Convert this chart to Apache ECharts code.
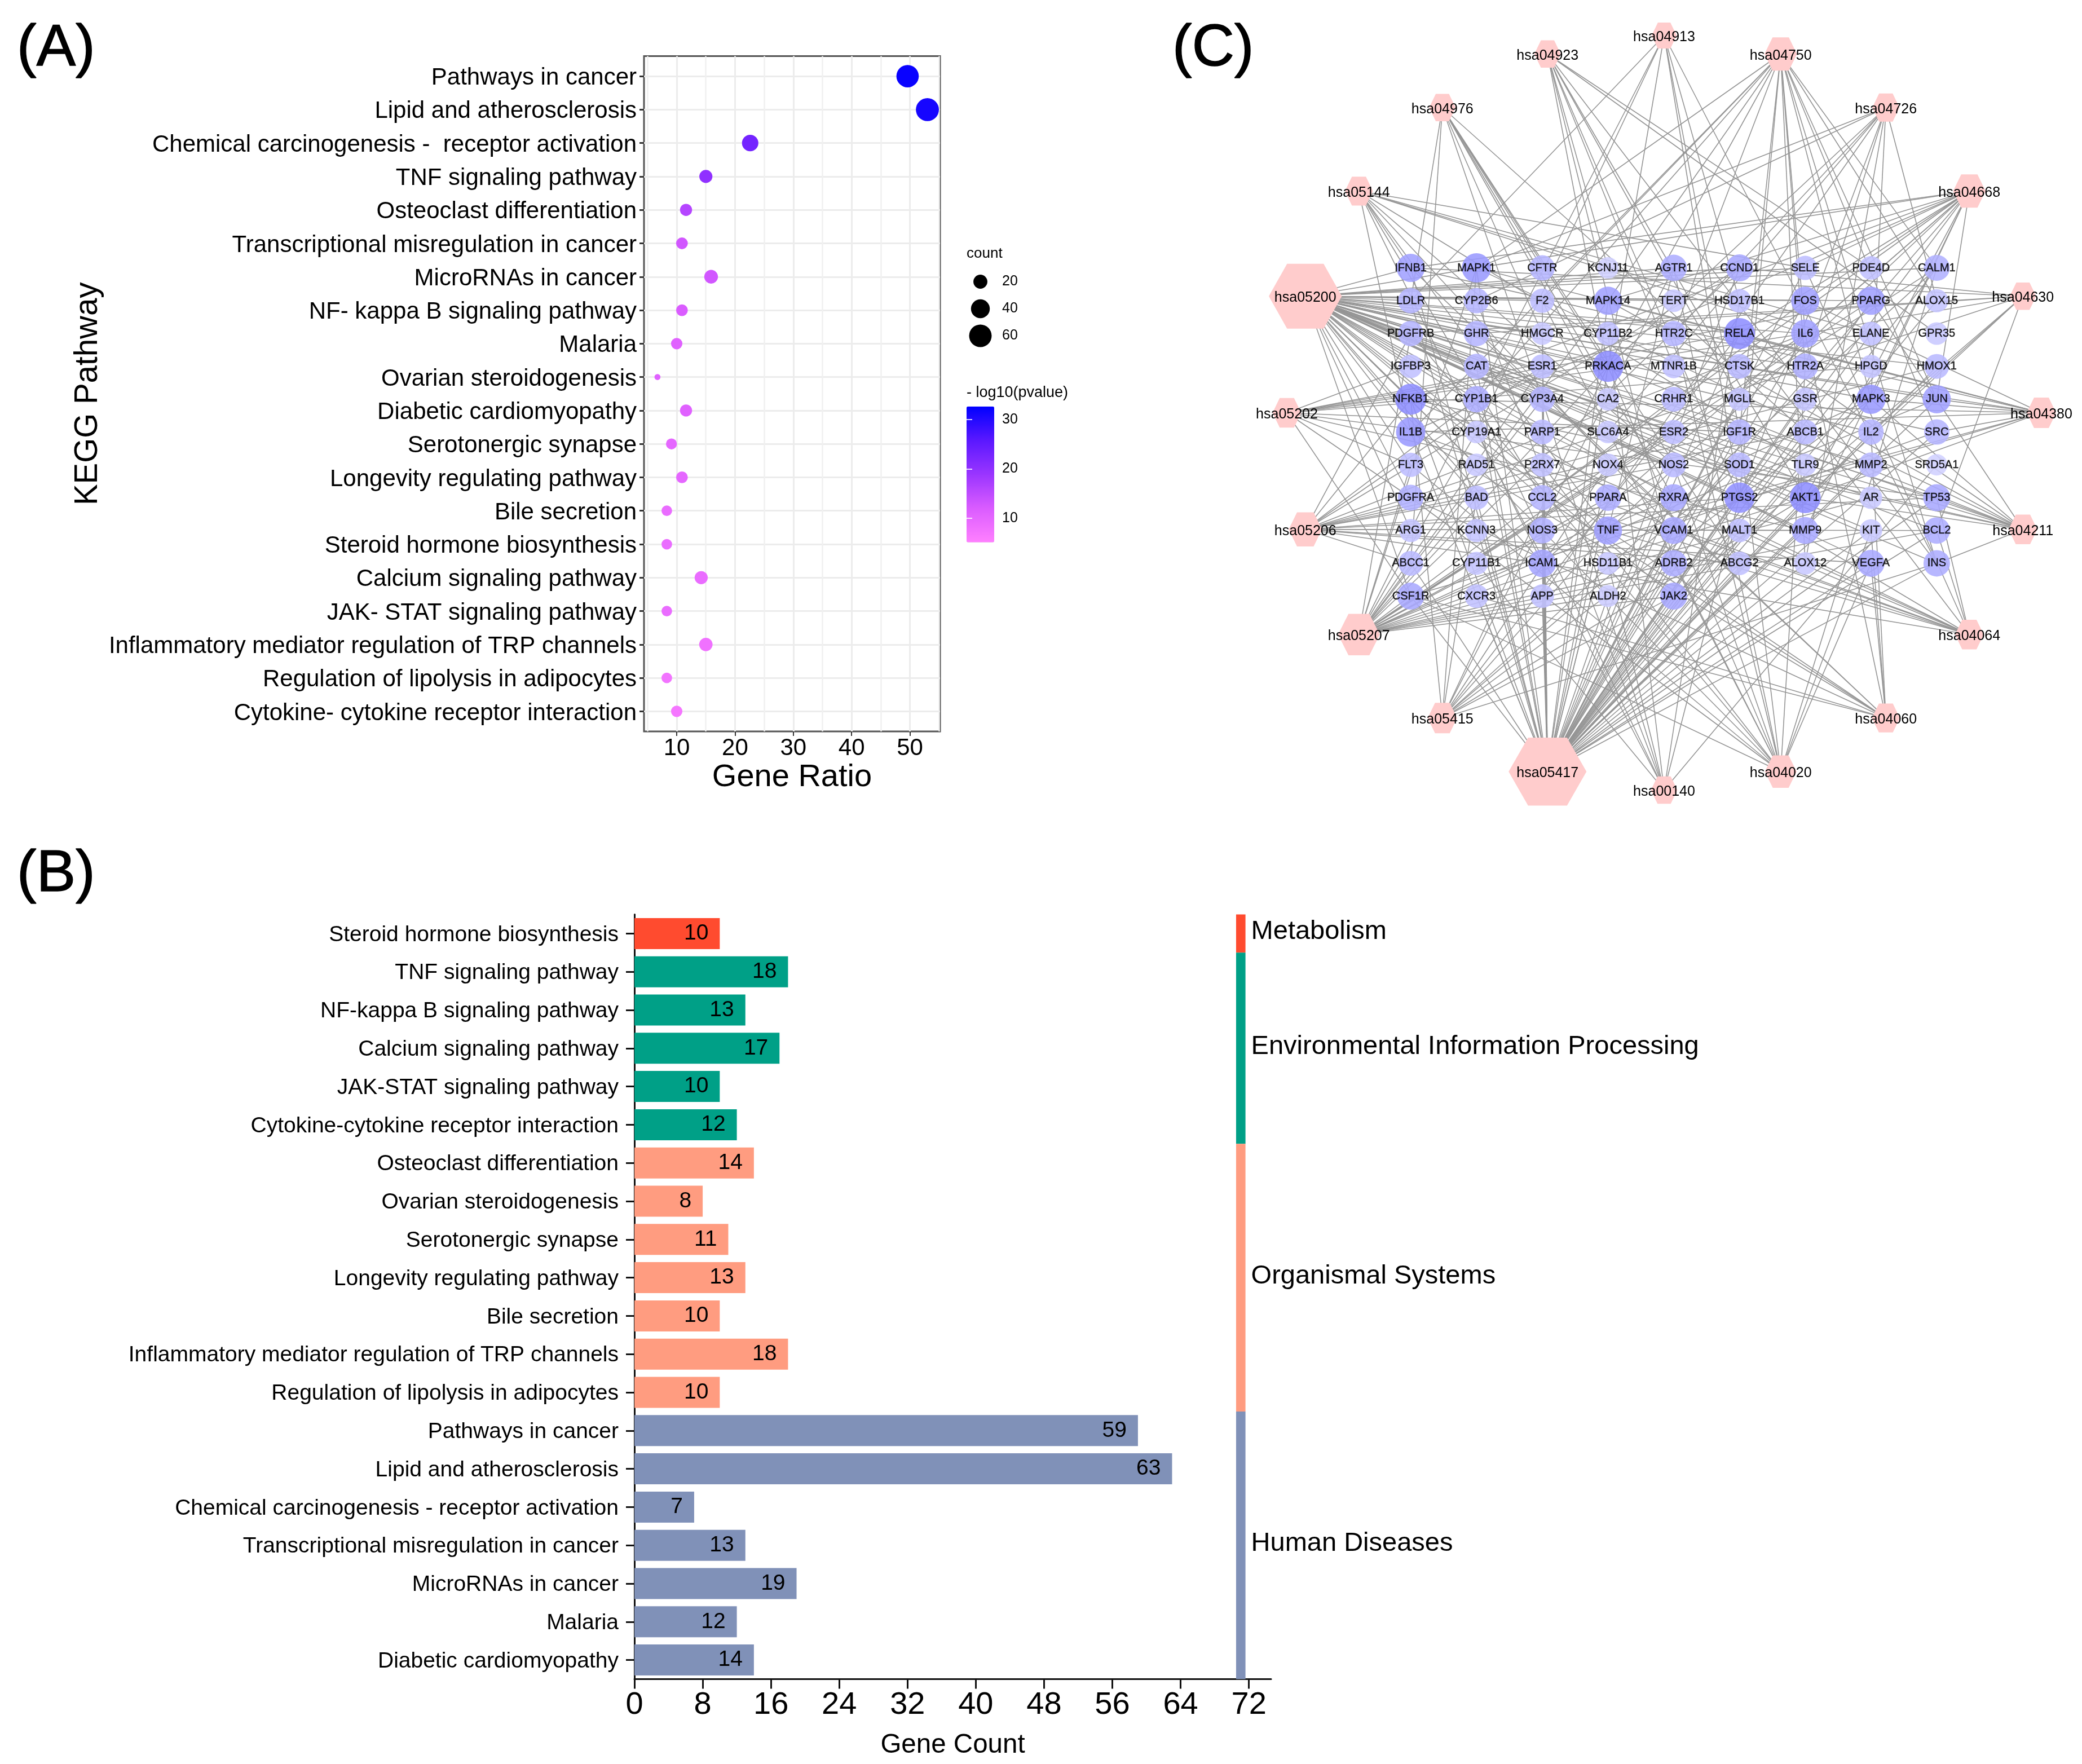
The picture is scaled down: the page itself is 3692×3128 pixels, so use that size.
<!DOCTYPE html>
<html><head><meta charset="utf-8">
<style>html,body{margin:0;padding:0;background:#fff}#c{width:3692px;height:3128px}</style>
<script src="https://cdn.jsdelivr.net/npm/echarts@6/dist/echarts.min.js"></script>
</head><body><div id="c"></div>
<script>
// ---------- Panel A data ----------
const keggNames = ['Pathways in cancer','Lipid and atherosclerosis','Chemical carcinogenesis -  receptor activation','TNF signaling pathway','Osteoclast differentiation','Transcriptional misregulation in cancer','MicroRNAs in cancer','NF- kappa B signaling pathway','Malaria','Ovarian steroidogenesis','Diabetic cardiomyopathy','Serotonergic synapse','Longevity regulating pathway','Bile secretion','Steroid hormone biosynthesis','Calcium signaling pathway','JAK- STAT signaling pathway','Inflammatory mediator regulation of TRP channels','Regulation of lipolysis in adipocytes','Cytokine- cytokine receptor interaction'];
const geneRatio = [49.6,53,22.6,15,11.6,10.9,15.9,10.9,10,6.7,11.6,9.1,10.9,8.3,8.3,14.2,8.3,15,8.3,10];
const keggCount = [59,63,29,17,14,13,19,13,12,2,14,11,13,10,10,17,10,18,10,12];
const logP = [32,31,23,20,16,13,13,12,11,11,11,10,10,9,9,9,9,8,7.5,7];
const sizeLegend = [20,40,60];
const ratioMajor = [10,20,30,40,50];
const ratioMinor = [5,15,25,35,45,55];
const colorTicks = [10,20,30];
// ---------- Panel B data ----------
const barNames = ['Steroid hormone biosynthesis','TNF signaling pathway','NF-kappa B signaling pathway','Calcium signaling pathway','JAK-STAT signaling pathway','Cytokine-cytokine receptor interaction','Osteoclast differentiation','Ovarian steroidogenesis','Serotonergic synapse','Longevity regulating pathway','Bile secretion','Inflammatory mediator regulation of TRP channels','Regulation of lipolysis in adipocytes','Pathways in cancer','Lipid and atherosclerosis','Chemical carcinogenesis - receptor activation','Transcriptional misregulation in cancer','MicroRNAs in cancer','Malaria','Diabetic cardiomyopathy'];
const barValues = [10,18,13,17,10,12,14,8,11,13,10,18,10,59,63,7,13,19,12,14];
const groupNames = ['Metabolism','Environmental Information Processing','Organismal Systems','Human Diseases'];
const groupSizes = [1,5,7,7];
const groupColors = ['#FF4B2F','#00A087','#FF9C80','#8091B8'];
const barTicks = [0,8,16,24,32,40,48,56,64,72];
// ---------- Panel C data ----------
const genes = ['IFNB1','MAPK1','CFTR','KCNJ11','AGTR1','CCND1','SELE','PDE4D','CALM1','LDLR','CYP2B6','F2','MAPK14','TERT','HSD17B1','FOS','PPARG','ALOX15','PDGFRB','GHR','HMGCR','CYP11B2','HTR2C','RELA','IL6','ELANE','GPR35','IGFBP3','CAT','ESR1','PRKACA','MTNR1B','CTSK','HTR2A','HPGD','HMOX1','NFKB1','CYP1B1','CYP3A4','CA2','CRHR1','MGLL','GSR','MAPK3','JUN','IL1B','CYP19A1','PARP1','SLC6A4','ESR2','IGF1R','ABCB1','IL2','SRC','FLT3','RAD51','P2RX7','NOX4','NOS2','SOD1','TLR9','MMP2','SRD5A1','PDGFRA','BAD','CCL2','PPARA','RXRA','PTGS2','AKT1','AR','TP53','ARG1','KCNN3','NOS3','TNF','VCAM1','MALT1','MMP9','KIT','BCL2','ABCC1','CYP11B1','ICAM1','HSD11B1','ADRB2','ABCG2','ALOX12','VEGFA','INS','CSF1R','CXCR3','APP','ALDH2','JAK2'];
const geneWeight = [14,16,9,2,11,12,7,6,10, 9,9,7,14,4,6,14,14,5, 9,9,4,6,9,19,14,6,4, 6,9,7,19,6,8,10,5,8, 19,11,9,4,8,5,5,16,14, 16,4,8,4,7,9,8,9,9, 7,4,6,4,8,8,4,8,2, 10,7,9,11,12,18,19,4,12, 5,5,10,14,12,6,12,4,11, 8,5,13,4,11,6,4,12,11, 12,6,6,3,12];
const pathwayRing = ['hsa04913','hsa04750','hsa04726','hsa04668','hsa04630','hsa04380','hsa04211','hsa04064','hsa04060','hsa04020','hsa00140','hsa05417','hsa05415','hsa05207','hsa05206','hsa05202','hsa05200','hsa05144','hsa04976','hsa04923'];
const pathwayGenes = {
 hsa04913:'CYP19A1 CYP1B1 HSD17B1 PRKACA IGF1R INS PTGS2 LDLR',
 hsa04750:'CALM1 PRKACA MAPK1 MAPK3 MAPK14 IL1B F2 HTR2A HTR2C ALOX12 ALOX15 SRC IGF1R PTGS2 INS JUN IL6 CYP1B1',
 hsa04726:'HTR2A HTR2C SLC6A4 PRKACA MAPK1 MAPK3 PTGS2 ALOX12 ALOX15 APP CYP2B6',
 hsa04668:'MAPK1 MAPK3 MAPK14 FOS JUN RELA NFKB1 IL6 IL1B TNF CCL2 PTGS2 MMP9 ICAM1 VCAM1 SELE AKT1 IFNB1',
 hsa04630:'IFNB1 IL2 IL6 GHR PDGFRA PDGFRB CCND1 BCL2 JAK2 AKT1',
 hsa04380:'FOS JUN MAPK1 MAPK3 MAPK14 NFKB1 RELA AKT1 TNF IL1B IFNB1 CSF1R CTSK SRC',
 hsa04211:'AKT1 IGF1R INS NFKB1 RELA TP53 SOD1 CAT PRKACA MAPK14 PPARG MAPK1 MAPK3',
 hsa04064:'RELA NFKB1 IL1B TNF PTGS2 ICAM1 VCAM1 SELE BCL2 MALT1 PARP1 CCL2 TP53',
 hsa04060:'IFNB1 IL1B IL2 IL6 TNF CCL2 CXCR3 CSF1R GHR VEGFA KIT PDGFRA',
 hsa04020:'AGTR1 CALM1 ADRB2 HTR2A HTR2C PDGFRA PDGFRB P2RX7 NOS2 NOS3 PRKACA F2 KIT FLT3 VEGFA CSF1R IGF1R',
 hsa00140:'CYP1B1 CYP3A4 CYP19A1 CYP11B1 CYP11B2 HSD17B1 HSD11B1 SRD5A1 CYP2B6 PTGS2',
 hsa05417:'LDLR CAT JUN FOS MAPK1 MAPK3 MAPK14 NFKB1 RELA AKT1 TNF IL1B IL6 CCL2 ICAM1 VCAM1 SELE MMP2 MMP9 PPARG PPARA RXRA BCL2 BAD TP53 PRKACA CALM1 HMOX1 NOS3 NOS2 NOX4 SOD1 TLR9 SRC JAK2 ALOX15 ALOX12 APP IFNB1 GSR CYP3A4 CYP1B1 ABCG2 HMGCR PTGS2 VEGFA CCND1 F2 IL2 INS AGTR1 IGF1R PARP1 ABCC1 ABCB1 CSF1R CXCR3 ALDH2 ADRB2 KIT MALT1 ELANE MGLL',
 hsa05415:'AGTR1 MAPK1 MAPK3 NFKB1 RELA TNF PRKACA NOX4 INS AKT1 BAD SOD1 JAK2 CALM1',
 hsa05207:'AR ESR1 ESR2 RXRA PPARA PPARG CYP1B1 CYP3A4 CYP19A1 AKT1 MAPK1 MAPK3 MAPK14 JUN FOS CCND1 SRC PRKACA BCL2 BAD KIT IGF1R PDGFRB ADRB2 JAK2 CALM1 IL6 ALDH2 FLT3',
 hsa05206:'BCL2 CCND1 MMP9 TP53 PTGS2 ABCB1 ABCC1 ABCG2 CYP1B1 PDGFRA PDGFRB HMOX1 VEGFA IGF1R ICAM1 NFKB1 IL6 NOS2 ESR1',
 hsa05202:'RELA NFKB1 IL6 TP53 FLT3 IGF1R IGFBP3 PPARG ELANE MMP9 HPGD CSF1R PDGFRA',
 hsa05200:'MAPK1 MAPK3 CCND1 F2 AGTR1 FOS JUN PPARG IL6 RELA NFKB1 PRKACA HMOX1 IL2 IGF1R ESR1 ESR2 PTGS2 AKT1 AR TP53 MMP2 MMP9 BCL2 VEGFA NOS2 RXRA BAD FLT3 PDGFRA PDGFRB KIT RAD51 JAK2 CALM1 IFNB1 CSF1R TERT IL1B TNF ICAM1 VCAM1 CCL2 SRC CAT SOD1 NOS3 PARP1 ARG1 CYP1B1 CYP3A4 HMGCR GHR IGFBP3 INS HTR2A SELE CTSK LDLR',
 hsa05144:'IL1B IL6 TNF CCL2 ICAM1 VCAM1 SELE TLR9 HMOX1 ELANE IFNB1 NOS2',
 hsa04976:'ABCB1 ABCG2 ABCC1 CFTR LDLR HMGCR CA2 PRKACA RXRA CYP3A4',
 hsa04923:'ADRB2 PRKACA AKT1 INS PTGS2 MGLL PDE4D GPR35 MTNR1B KCNJ11'
};

// ---------- helpers ----------
const FONT = '"Liberation Sans", Arial, sans-serif';
const countToSize = c => 4.1 + 4.63 * Math.sqrt(c);
const range = n => Array.from({length:n},(_,i)=>i);
const hexPath = 'path://M0 50 L25 0 L75 0 L100 50 L75 100 L25 100 Z';
const lerpHex = (t) => {
  const a=[208,208,255], b=[142,142,255];
  return 'rgb('+a.map((v,i)=>Math.round(v+(b[i]-v)*t)).join(',')+')';
};

// panel C layout (network units)
const RING_R = 669, COL_STEP = 116.6, ROW_STEP = 58.2;
const nodes = [];
pathwayRing.forEach((name,i)=>{
  const th = i*Math.PI*2/pathwayRing.length;
  const deg = pathwayGenes[name].split(' ').length;
  nodes.push({name, value:[RING_R*Math.sin(th), -RING_R*Math.cos(th)],
    symbol:hexPath,
    symbolSize:[35+1.1*deg+0.0085*deg*deg, 36+1.25*deg+0.0015*deg*deg],
    itemStyle:{color:'#ffcccc',opacity:1},
    label:{show:true,position:'inside',fontSize:25,color:'#000',fontFamily:FONT,verticalAlign:'top',lineHeight:6}});
});
genes.forEach((name,i)=>{
  const col=i%9,row=Math.floor(i/9),w=geneWeight[i];
  nodes.push({name, value:[(col-4)*COL_STEP+17,(row-4.5)*ROW_STEP+5],
    symbol:'circle', symbolSize:36+w,
    itemStyle:{color:lerpHex((w-2)/17),opacity:0.88},
    label:{show:true,position:'inside',fontSize:20,color:'#000',fontFamily:FONT,textBorderColor:'#000',textBorderWidth:0.4}});
});
const links=[];
Object.keys(pathwayGenes).forEach(p=>pathwayGenes[p].split(' ').forEach(g=>links.push({source:p,target:g})));

// group strip
let cum=0;
const stripData = groupSizes.map((n,i)=>{const d=[cum,cum+n,i];cum+=n;return d;});
const barColor = i=>{let c=0;for(let g=0;g<groupSizes.length;g++){c+=groupSizes[g];if(i<c)return groupColors[g];}};
const STRIP_X=[70.5,71.6];

const hiddenX=(extra)=>Object.assign({type:'value',show:false},extra);
const panelTitle={fontSize:104,fontWeight:'normal',color:'#000',fontFamily:FONT,textBorderColor:'#000',textBorderWidth:1.5};

const option={
 backgroundColor:'#fff',
 animation:false,
 textStyle:{fontFamily:FONT},
 title:[
  {text:'(A)',left:30,top:35,padding:0,textStyle:panelTitle},
  {text:'(B)',left:30,top:1499,padding:0,textStyle:panelTitle},
  {text:'(C)',left:2079,top:35,padding:0,textStyle:panelTitle},
  {text:'count',left:1714,top:437,padding:0,textStyle:{fontSize:26,fontWeight:'normal',color:'#000',fontFamily:FONT}},
  {text:'- log10(pvalue)',left:1714,top:683,padding:0,textStyle:{fontSize:27,fontWeight:'normal',color:'#000',fontFamily:FONT}}
 ],
 visualMap:[{type:'continuous',seriesIndex:0,dimension:3,min:5.15,max:32.66,left:1714,top:720.7,itemWidth:49,itemHeight:241,padding:0,calculable:false,hoverLink:false,text:null,
   inRange:{color:['#ff80ff','#da5cff','#9a35ff','#5a18ff','#0000ff']}}],
 grid:[
  {left:1142,top:99.5,width:525,height:1197.5,show:true,borderColor:'#555',borderWidth:3,backgroundColor:'#fff'},
  {left:1714,top:475.5,width:49,height:144},
  {left:1714,top:720.7,width:49,height:241},
  {left:1125,top:1621.5,width:1129,height:1356},
  {left:1125,top:1621.5,width:1129,height:1356},
  {left:2211,top:2,width:1480,height:1460}
 ],
 xAxis:[
  {gridIndex:0,type:'value',min:4.39,max:55.17,position:'bottom',
   axisLine:{show:false,onZero:false},
   axisTick:{show:true,length:8,customValues:ratioMajor,lineStyle:{color:'#333',width:2}},
   axisLabel:{customValues:ratioMajor,fontSize:42,margin:9,color:'#000',fontFamily:FONT},
   splitLine:{show:true,lineStyle:{color:'#ececec',width:3}},
   name:'Gene Ratio',nameLocation:'middle',nameGap:54,nameMoveOverlap:false,nameTextStyle:{fontSize:56,color:'#000',fontFamily:FONT}},
  {gridIndex:0,type:'value',min:4.39,max:55.17,position:'bottom',
   axisLine:{show:false,onZero:false},axisTick:{show:false,customValues:ratioMinor},axisLabel:{show:false,customValues:ratioMinor},
   splitLine:{show:true,lineStyle:{color:'#f0f0f0',width:2.5}}},
  hiddenX({gridIndex:1,min:0,max:1}),
  hiddenX({gridIndex:2,min:0,max:1}),
  {gridIndex:3,type:'value',min:0,max:74.6,
   axisLine:{show:true,onZero:false,lineStyle:{color:'#111',width:3}},
   axisTick:{show:true,length:17,customValues:barTicks,lineStyle:{color:'#111',width:3}},
   axisLabel:{customValues:barTicks,fontSize:56,margin:18,color:'#000',fontFamily:FONT},
   splitLine:{show:false},
   name:'Gene Count',nameLocation:'middle',nameGap:93,nameMoveOverlap:false,nameTextStyle:{fontSize:47.5,color:'#000',fontFamily:FONT}},
  hiddenX({gridIndex:4,min:0,max:74.6}),
  hiddenX({gridIndex:5,min:-740,max:740})
 ],
 yAxis:[
  {gridIndex:0,type:'value',inverse:true,min:-0.6,max:19.6,
   axisLine:{show:false,onZero:false},
   axisTick:{show:true,length:8,customValues:range(keggNames.length),lineStyle:{color:'#333',width:3}},
   axisLabel:{customValues:range(keggNames.length),fontSize:42,margin:13,color:'#000',fontFamily:FONT,verticalAlign:'top',lineHeight:7,formatter:v=>keggNames[v]},
   splitLine:{show:true,lineStyle:{color:'#ececec',width:3}},
   name:'KEGG Pathway',nameLocation:'middle',nameGap:957,nameRotate:90,nameMoveOverlap:false,nameTextStyle:{fontSize:56.5,color:'#000',fontFamily:FONT}},
  {gridIndex:1,type:'category',position:'right',data:sizeLegend.map(String),inverse:true,
   axisLine:{show:false},axisTick:{show:false},axisLabel:{fontSize:25,margin:14,color:'#000',fontFamily:FONT}},
  {gridIndex:2,type:'value',position:'right',min:5.15,max:32.66,z:10,
   axisLine:{show:false},
   axisTick:{show:true,inside:true,length:10,customValues:colorTicks,lineStyle:{color:'#fff',opacity:.8,width:2}},
   axisLabel:{customValues:colorTicks,fontSize:25,margin:14,color:'#000',fontFamily:FONT},splitLine:{show:false}},
  {gridIndex:2,type:'value',position:'left',min:5.15,max:32.66,z:10,
   axisLine:{show:false},
   axisTick:{show:true,inside:true,length:10,customValues:colorTicks,lineStyle:{color:'#fff',opacity:.8,width:2}},
   axisLabel:{show:false,customValues:colorTicks},splitLine:{show:false}},
  {gridIndex:3,type:'category',inverse:true,data:barNames,
   axisLine:{show:true,lineStyle:{color:'#111',width:3}},
   axisTick:{show:true,length:15,alignWithLabel:true,lineStyle:{color:'#111',width:3}},
   axisLabel:{fontSize:39,margin:28,color:'#000',fontFamily:FONT,interval:0,verticalAlign:'top',lineHeight:5}},
  {gridIndex:4,type:'value',inverse:true,min:0,max:20,show:false},
  {gridIndex:5,type:'value',inverse:true,min:-730,max:730,show:false}
 ],
 series:[
  {name:'KEGG',type:'scatter',xAxisIndex:0,yAxisIndex:0,clip:false,z:5,itemStyle:{opacity:1},
   data:keggNames.map((n,i)=>[geneRatio[i],i,keggCount[i],logP[i]]),
   symbolSize:d=>countToSize(d[2])},
  {name:'count',type:'scatter',xAxisIndex:2,yAxisIndex:1,itemStyle:{color:'#000',opacity:1},
   data:sizeLegend.map(v=>[0.5,String(v),v]),symbolSize:d=>countToSize(d[2])},
  {name:'Gene Count',type:'bar',xAxisIndex:4,yAxisIndex:4,barWidth:55,
   data:barValues.map((v,i)=>({value:v,itemStyle:{color:barColor(i)}})),
   label:{show:true,position:'insideRight',distance:20,fontSize:39,color:'#000',fontFamily:FONT}},
  {name:'groups',type:'custom',xAxisIndex:5,yAxisIndex:5,silent:true,clip:false,
   data:stripData,
   encode:{y:[0,1]},
   renderItem:(params,api)=>{
     const s=api.value(0),e=api.value(1),g=api.value(2);
     const p0=api.coord([STRIP_X[0],s]),p1=api.coord([STRIP_X[1],e]);
     return {type:'group',children:[
       {type:'rect',shape:{x:p0[0],y:p0[1],width:p1[0]-p0[0],height:p1[1]-p0[1]},style:{fill:groupColors[g]}},
       {type:'text',style:{x:p1[0]+10,y:(p0[1]+p1[1])/2-3,text:groupNames[g],fontSize:47,fontFamily:FONT,fill:'#000',textVerticalAlign:'middle',verticalAlign:'middle'}}
     ]};
   }},
  {name:'network',type:'graph',coordinateSystem:'cartesian2d',xAxisIndex:6,yAxisIndex:6,layout:'none',silent:true,
   data:nodes,links:links,
   lineStyle:{color:'#959595',width:1.6,opacity:1,curveness:0}}
 ]
};
const chart=echarts.init(document.getElementById('c'),null,{width:3692,height:3128,renderer:'canvas'});
chart.setOption(option);
</script></body></html>
